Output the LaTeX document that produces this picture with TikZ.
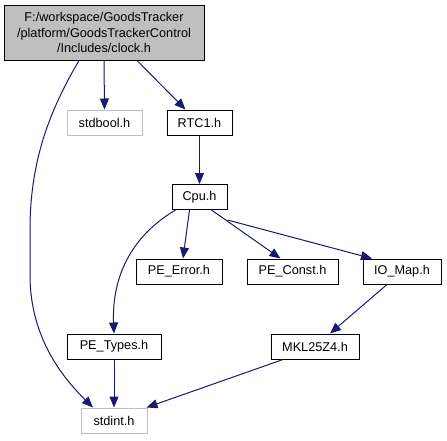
\documentclass[tikz,border=0pt]{standalone}
\usepackage{fontspec}
\setmainfont{Liberation Sans}
\usetikzlibrary{arrows.meta}
\definecolor{edgeblue}{HTML}{191970}
\definecolor{boxgray}{HTML}{BFBFBF}
\begin{document}
\begin{tikzpicture}[x=1pt,y=-1pt,
  box/.style={draw=black,line width=1pt,fill=white,inner sep=0pt,minimum height=25pt,
    font=\fontsize{12.7}{15.5}\selectfont,align=center},
  sysbox/.style={box,draw=boxgray},
  mainbox/.style={box,fill=boxgray},
  edge/.style={draw=edgeblue,line width=1pt,-{Triangle[length=11pt,width=9pt]}}]
\useasboundingbox (0,0) rectangle (447,440);
\node[mainbox,minimum width=200pt,minimum height=55pt] (clock) at (104,32.5)
  {F:/workspace/GoodsTracker\\/platform/GoodsTrackerControl\\/Includes/clock.h};
\node[sysbox,minimum width=75pt] (stdbool) at (104.5,122.5) {stdbool.h};
\node[box,minimum width=65pt] (rtc) at (199.5,122.5) {RTC1.h};
\node[box,minimum width=55pt] (cpu) at (199.5,197) {Cpu.h};
\node[box,minimum width=86pt] (perr) at (179,271.5) {PE\_Error.h};
\node[box,minimum width=91pt] (pconst) at (292.5,271.5) {PE\_Const.h};
\node[box,minimum width=78pt] (iomap) at (402,271.5) {IO\_Map.h};
\node[box,minimum width=88pt] (mkl) at (315,346.5) {MKL25Z4.h};
\node[box,minimum width=94pt] (ptypes) at (114,346.5) {PE\_Types.h};
\node[sysbox,minimum width=66pt] (stdint) at (114,420.5) {stdint.h};

\draw[edge] ([xshift=-25pt]clock.south) .. controls (50,110) and (30,160) .. (30,230)
  -- (30,275) .. controls (30,335) and (60,375) .. ([xshift=-21pt]stdint.north);
\draw[edge] (clock.south) -- (stdbool.north);
\draw[edge] ([xshift=33pt]clock.south) -- ([xshift=-14pt]rtc.north);
\draw[edge] (rtc) -- (cpu);
\draw[edge] ([xshift=-24pt]cpu.south) .. controls (125,240) and (112,285) .. (ptypes.north);
\draw[edge] ([xshift=-10pt]cpu.south) -- ([xshift=4pt]perr.north);
\draw[edge] ([xshift=12pt]cpu.south) -- ([xshift=-12pt]pconst.north);
\draw[edge] ([yshift=-10pt]cpu.south east) -- ([xshift=-30pt]iomap.north);
\draw[edge] ([xshift=-15pt]iomap.south) -- ([xshift=15pt]mkl.north);
\draw[edge] ([xshift=-32pt]mkl.south) -- ([xshift=-1pt]stdint.north east);
\draw[edge] (ptypes) -- (stdint);
\end{tikzpicture}
\end{document}
